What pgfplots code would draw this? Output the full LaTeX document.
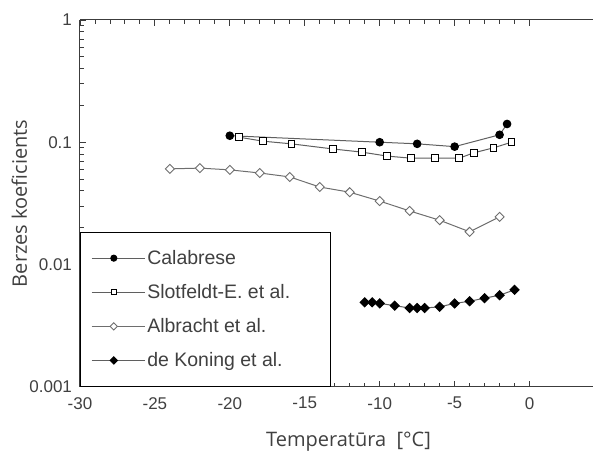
\documentclass[border=0pt]{standalone}
\usepackage{fontspec}
\setmainfont{Liberation Sans}
\newfontfamily\labfont{Open Sans}
\usepackage{pgfplots}
\pgfplotsset{compat=1.18}

\definecolor{axcol}{RGB}{60,60,60}
\definecolor{txtcol}{RGB}{64,64,64}
\definecolor{linecol}{RGB}{95,95,95}
\definecolor{opengray}{RGB}{110,110,110}

\begin{document}
\begin{tikzpicture}
\begin{axis}[
  name=ax,
  scale only axis,
  width=513pt, height=367pt,
  xmin=-30, xmax=4.2,
  ymode=log, ymin=0.001, ymax=1,
  axis x line=box, axis y line*=left,
  axis line style={draw=axcol, line width=1pt, -},
  tick align=inside,
  xtick={-30,-25,-20,-15,-10,-5,0},
  xticklabels={-30,-25,-20,-15,-10,-5,0},
  minor x tick num=4,
  ytick={0.001,0.01,0.1,1},
  yticklabels={0.001,0.01,0.1,1},
  major tick length=6pt, minor tick length=4pt,
  tick style={draw=axcol, line width=0.8pt},
  ticklabel style={font=\fontsize{17}{19}\selectfont, text=txtcol},
  xticklabel style={yshift=-7pt},
  yticklabel style={xshift=-4.5pt},
  xlabel={\labfont Temperatūra\ \ [°C]},
  ylabel={\labfont Berzes koeficients},
  xlabel style={font=\fontsize{20}{24}\selectfont, text=txtcol, at={(axis description cs:0.524,-0.1635)}, anchor=base},
  ylabel style={font=\fontsize{20}{24}\selectfont, text=txtcol, at={(axis description cs:-0.118,0.5)}, anchor=center},
  legend image code/.code={
    \path (0pt,0pt) -- (53pt,0pt);
    \draw[mark repeat=2, mark phase=2, mark size=0.8\pgfplotmarksize] plot coordinates {(0pt,0pt) (22pt,0pt) (44pt,0pt)};
  },
  legend cell align=left,
  legend style={at={(0,0)}, anchor=south west, draw=black, line width=0.8pt,
    font=\fontsize{19.5}{22}\selectfont, text=txtcol, row sep=14.5pt,
    inner xsep=11pt, inner ysep=16pt},
]
\addplot[linecol, line width=1pt, mark=*, mark size=3.8pt, mark options={fill=black, draw=black}]
  coordinates {(-20,0.113) (-10,0.100) (-7.5,0.097) (-5,0.092) (-2,0.115) (-1.5,0.141)};
\addlegendentry{\makebox[170pt][l]{Calabrese}}
\addplot[linecol, line width=1pt, mark=square*, mark size=3.3pt, mark options={fill=white, draw=black, line width=0.9pt}]
  coordinates {(-19.4,0.110) (-17.8,0.102) (-15.9,0.097) (-13.1,0.088) (-11.2,0.083) (-9.5,0.077)
               (-7.9,0.074) (-6.3,0.074) (-4.7,0.074) (-3.7,0.082) (-2.4,0.090) (-1.2,0.100)};
\addlegendentry{\makebox[170pt][l]{Slotfeldt-E. et al.}}
\addplot[opengray, line width=1pt, mark=square*, mark size=3.2pt, mark options={rotate=45, fill=white, draw=opengray, line width=0.9pt}]
  coordinates {(-24,0.0605) (-22,0.0614) (-20,0.0594) (-18,0.056) (-16,0.052) (-14,0.043)
               (-12,0.039) (-10,0.033) (-8,0.0274) (-6,0.023) (-4,0.0185) (-2,0.0245)};
\addlegendentry{\makebox[170pt][l]{Albracht et al.}}
\addplot[linecol, line width=1pt, mark=square*, mark size=3.2pt, mark options={rotate=45, fill=black, draw=black}]
  coordinates {(-11,0.0049) (-10.5,0.0049) (-10,0.0048) (-9,0.0046) (-8,0.0044) (-7.5,0.0044) (-7,0.0044)
               (-6,0.0045) (-5,0.0048) (-4,0.0050) (-3,0.0053) (-2,0.0056) (-1,0.0062)};
\addlegendentry{\makebox[170pt][l]{de Koning et al.}}
\end{axis}
\path[use as bounding box] ([xshift=-80pt,yshift=-64pt]ax.south west) rectangle ([yshift=20pt]ax.north east);
\end{tikzpicture}
\end{document}
